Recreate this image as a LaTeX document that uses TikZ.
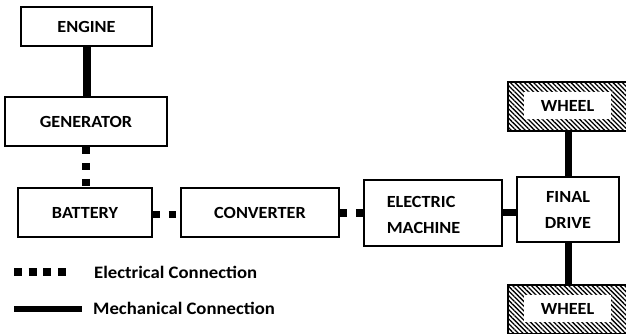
\documentclass[tikz,border=0pt]{standalone}
\usepackage{fontspec}
\setmainfont{Carlito}[FakeStretch=1.07]
\usetikzlibrary{patterns.meta}
\tikzset{
  box/.style={draw=black, line width=1.6pt, fill=white, inner sep=0pt, font=\fontsize{17}{26}\selectfont\bfseries},
  mech/.style={line width=7.5pt},
  elec/.style={line width=7.5pt, dash pattern=on 7pt off 9pt},
  wheelbox/.style={draw=black, line width=1.6pt, inner sep=0pt, pattern={Lines[angle=-45, distance=3.3pt, line width=1.3pt]}},
  wheeltext/.style={fill=white, inner sep=0pt, minimum width=87pt, minimum height=27pt, font=\fontsize{17}{20}\selectfont\bfseries},
  legtext/.style={anchor=base west, inner sep=0pt, font=\fontsize{17.5}{20}\selectfont\bfseries}
}
\begin{document}
\begin{tikzpicture}[x=1pt, y=-1pt]
\useasboundingbox (0,0) rectangle (626,333);
\clip (0,0) rectangle (626,333);
\node[box, minimum width=131pt, minimum height=39pt] (engine) at (86.5,26.5) {ENGINE};
\node[box, minimum width=162pt, minimum height=49pt] (gen) at (86,121.5) {GENERATOR};
\node[box, minimum width=134pt, minimum height=49pt] (bat) at (85,212.5) {BATTERY};
\node[box, minimum width=158pt, minimum height=49pt] (conv) at (260,212.5) {CONVERTER};
\node[box, minimum width=138pt, minimum height=66pt] (em) at (433,213) {};
\node[box, draw=none, fill=none, anchor=west, align=left] (emtext) at (386,215) {ELECTRIC\\MACHINE};
\node[box, minimum width=102pt, minimum height=65pt, align=center] (fd) at (568,209.5) {FINAL\\DRIVE};
\node[wheelbox, minimum width=120pt, minimum height=49pt] (wt) at (568,106.5) {};
\node[wheeltext] (wttext) at (567.5,105.5) {WHEEL};
\node[wheelbox, minimum width=120pt, minimum height=49pt] (wb) at (568,309.5) {};
\node[wheeltext] (wbtext) at (567.5,308.5) {WHEEL};
% connectors
\draw[mech] (engine.south -| 87,0) -- (gen.north -| 87,0);
\draw[elec] (gen.south -| 86,0) -- (bat.north -| 86,0);
\draw[elec] (bat.east |- 0,214.5) -- (conv.west |- 0,214.5);
\draw[elec] (conv.east |- 0,213) -- (em.west |- 0,213);
\draw[mech] (em.east |- 0,212.5) -- (fd.west |- 0,212.5);
\draw[mech] (fd.north -| 568.5,0) -- (wt.south -| 568.5,0);
\draw[mech] (fd.south -| 568.5,0) -- (wb.north -| 568.5,0);
% legend
\coordinate (e1) at (14,272);
\coordinate (e2) at (67,272);
\coordinate (m1) at (14,309);
\coordinate (m2) at (82,309);
\draw[line width=8pt, dash pattern=on 8pt off 6.7pt] (e1) -- (e2);
\draw[line width=6.5pt] (m1) -- (m2);
\node[legtext] (elab) at (94,278) {Electrical Connection};
\node[legtext] (mlab) at (93,314.5) {Mechanical Connection};
\end{tikzpicture}
\end{document}
